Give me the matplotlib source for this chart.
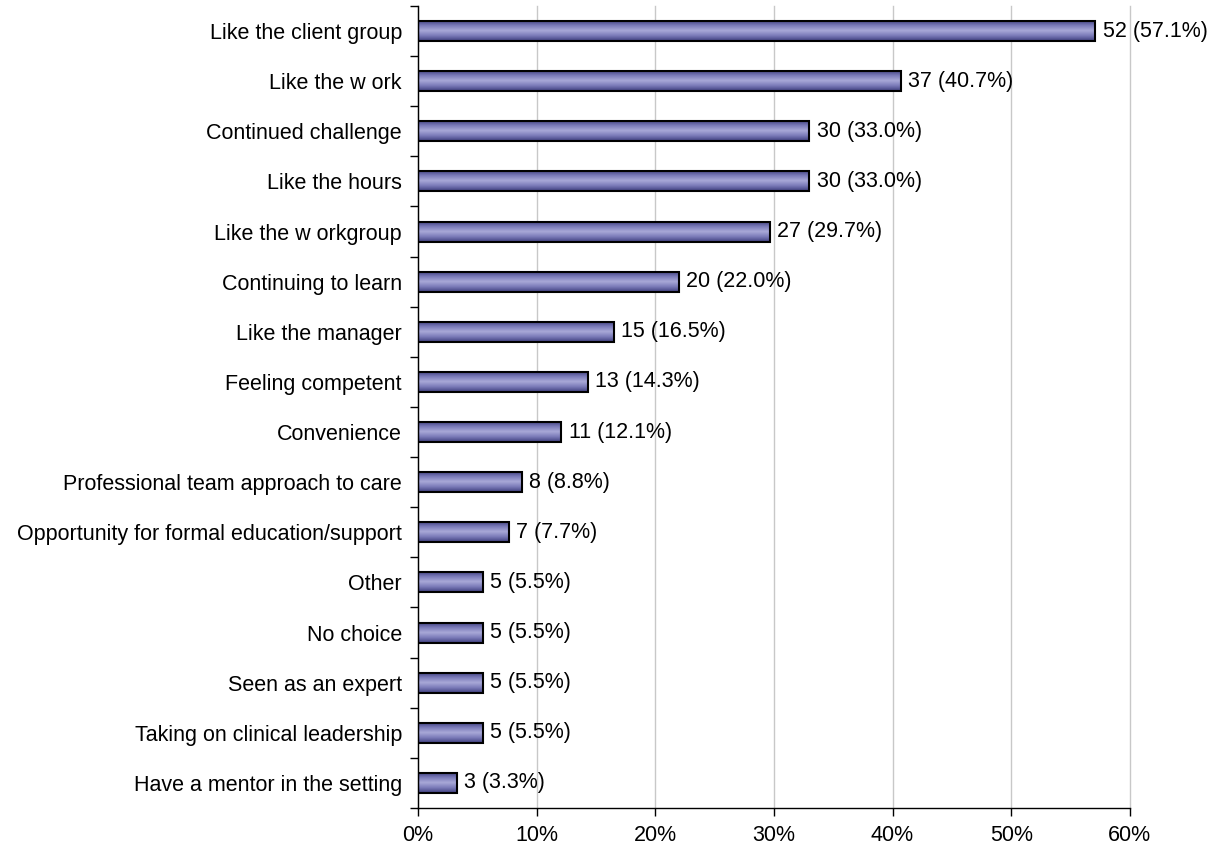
import numpy as np
import matplotlib.pyplot as plt
from matplotlib.colors import LinearSegmentedColormap

plt.rcParams['font.family'] = ['Liberation Sans', 'DejaVu Sans']

reasons = ['Like the client group', 'Like the w ork', 'Continued challenge',
           'Like the hours', 'Like the w orkgroup', 'Continuing to learn',
           'Like the manager', 'Feeling competent', 'Convenience',
           'Professional team approach to care',
           'Opportunity for formal education/support', 'Other', 'No choice',
           'Seen as an expert', 'Taking on clinical leadership',
           'Have a mentor in the setting']
counts = [52, 37, 30, 30, 27, 20, 15, 13, 11, 8, 7, 5, 5, 5, 5, 3]
percents = [57.1, 40.7, 33.0, 33.0, 29.7, 22.0, 16.5, 14.3, 12.1, 8.8, 7.7,
            5.5, 5.5, 5.5, 5.5, 3.3]

fs = 15.5

fig = plt.figure(figsize=(12.22, 8.5), dpi=100)
ax = fig.add_axes([0.342, 0.0494, 0.5826, 0.9436])

# bar shading: dark at the edges, light through the middle
shade = LinearSegmentedColormap.from_list(
    'shade', ['#40407f', '#7a7ab8', '#a9a9d8', '#7a7ab8', '#40407f'])
grad = np.linspace(0, 1, 64).reshape(-1, 1)

h = 0.4
ypos = np.arange(len(reasons))
for y, c, p in zip(ypos, counts, percents):
    ax.imshow(grad, cmap=shade, aspect='auto', interpolation='bilinear',
              extent=(0, p, y - h / 2, y + h / 2), zorder=2)
    ax.barh(y, p, height=h, facecolor='none', edgecolor='black',
            linewidth=1.5, zorder=3)
    ax.text(p + 0.6, y, f'{c} ({p:.1f}%)', va='center', ha='left',
            fontsize=fs)

ax.set_xlim(0, 60)
ax.set_ylim(len(reasons) - 0.5, -0.5)
ax.set_xticks(range(0, 61, 10))
ax.set_xticklabels([f'{v}%' for v in range(0, 61, 10)], fontsize=fs)
ax.set_yticks(ypos)
ax.set_yticklabels(reasons, fontsize=fs)
ax.set_yticks(np.arange(-0.5, len(reasons), 1), minor=True)
ax.tick_params(axis='y', which='major', length=0, pad=11.5)
ax.tick_params(axis='y', which='minor', length=6, width=1, direction='out')
ax.tick_params(axis='x', length=6, width=1, direction='out', pad=6)

ax.grid(axis='x', color='#c8c8c8', linewidth=1, zorder=0)
for gl in ax.get_xgridlines():
    gl.set_clip_on(False)
ax.set_axisbelow(True)
for s in ['top', 'right']:
    ax.spines[s].set_visible(False)
ax.spines['left'].set_linewidth(1)
ax.spines['bottom'].set_linewidth(1)

fig.savefig('out.png', dpi=100)
